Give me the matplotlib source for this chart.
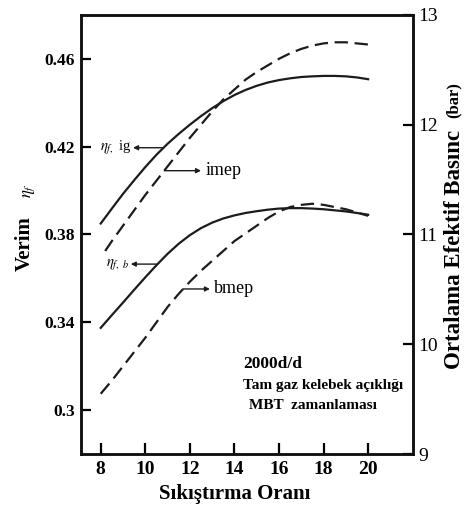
import matplotlib
matplotlib.use("Agg")
import matplotlib.pyplot as plt
import numpy as np

# compression ratio (values at half steps)
cr = [8, 8.5, 9, 9.5, 10, 10.5, 11, 11.5, 12, 12.5, 13, 13.5, 14, 14.5,
      15, 15.5, 16, 16.5, 17, 17.5, 18, 18.5, 19, 19.5, 20]
eta_ig = [0.3850, 0.3918, 0.3985, 0.4047, 0.4107, 0.4163, 0.4213, 0.4258, 0.4300,
          0.4339, 0.4375, 0.4407, 0.4435, 0.4458, 0.4477, 0.4492, 0.4503, 0.4511,
          0.4517, 0.4520, 0.4522, 0.4522, 0.4520, 0.4515, 0.4507]
eta_b = [0.3375, 0.3433, 0.3490, 0.3548, 0.3605, 0.3660, 0.3712, 0.3758, 0.3797,
         0.3829, 0.3854, 0.3873, 0.3887, 0.3898, 0.3906, 0.3913, 0.3918, 0.3920,
         0.3920, 0.3918, 0.3915, 0.3910, 0.3905, 0.3898, 0.3890]

cr_imep = [8.2, 8.5, 9, 9.5, 10, 10.5, 11, 11.5, 12, 12.5, 13, 13.5, 14, 14.5,
           15, 15.5, 16, 16.5, 17, 17.5, 18, 18.5, 19, 19.5, 20]
imep = [10.85, 10.94, 11.08, 11.22, 11.36, 11.49, 11.62, 11.75, 11.88, 12.00,
        12.12, 12.23, 12.32, 12.41, 12.48, 12.54, 12.60, 12.65, 12.69, 12.72,
        12.74, 12.75, 12.75, 12.74, 12.73]
bmep = [9.55, 9.67, 9.80, 9.93, 10.06, 10.20, 10.34, 10.46, 10.57, 10.67, 10.76,
        10.85, 10.94, 11.01, 11.08, 11.15, 11.21, 11.25, 11.27, 11.28, 11.27,
        11.25, 11.23, 11.20, 11.17]

left_ticks = [0.3, 0.34, 0.38, 0.42, 0.46]
left_labels = ["0.3", "0.34", "0.38", "0.42", "0.46"]
right_ticks = [9, 10, 11, 12, 13]
x_ticks = [8, 10, 12, 14, 16, 18, 20]

plt.rcParams["font.family"] = ["Liberation Serif", "DejaVu Serif"]
plt.rcParams["mathtext.fontset"] = "stix"

fig = plt.figure(figsize=(4.69, 5.12), dpi=100)
ax = fig.add_axes([0.172, 0.113, 0.708, 0.858])
ax2 = ax.twinx()

line_color = "#1c1c1c"
dash = (0, (6, 3))
ax.plot(cr, eta_ig, color=line_color, lw=1.6)
ax.plot(cr, eta_b, color=line_color, lw=1.6)
ax2.plot(cr_imep, imep, color=line_color, lw=1.6, linestyle=dash)
ax2.plot(cr, bmep, color=line_color, lw=1.6, linestyle=dash)

ax.set_xlim(7.1, 22.0)
ax.set_ylim(0.28, 0.48)
ax2.set_ylim(9, 13)

ax.set_xticks(x_ticks)
ax.set_xticklabels([str(t) for t in x_ticks], fontsize=14, fontweight="bold")
ax.set_yticks(left_ticks)
ax.set_yticklabels(left_labels, fontsize=12.5, fontweight="bold")
ax2.set_yticks(right_ticks)
ax2.set_yticklabels([str(t) for t in right_ticks], fontsize=14)

ax.tick_params(axis="x", direction="in", length=8, width=1.6, pad=5, top=False)
ax.tick_params(axis="y", direction="in", length=7, width=1.6, pad=4)
ax2.tick_params(axis="y", direction="in", length=7, width=1.6, pad=4)
for a in (ax, ax2):
    for s in a.spines.values():
        s.set_linewidth(1.8)
        s.set_color("#111111")

fig.text(0.501, 0.036, "Sıkıştırma Oranı", ha="center", va="center", fontsize=15, fontweight="bold")
fig.text(0.052, 0.525, "Verim", rotation=90, ha="center", va="center", fontsize=15, fontweight="bold")
fig.text(0.062, 0.627, r"$\eta_f$", rotation=90, ha="center", va="center", fontsize=12)
fig.text(0.970, 0.512, "Ortalama Efektif Basınc", rotation=90, ha="center", va="center", fontsize=16.5, fontweight="bold")
fig.text(0.967, 0.805, "(bar)", rotation=90, ha="center", va="center", fontsize=12, fontweight="bold")

arrow = dict(arrowstyle="-|>", color=line_color, lw=1.0, mutation_scale=7, shrinkA=0, shrinkB=0)

# eta_f,ig label
x0 = 10.82
y0 = np.interp(x0, cr, eta_ig)
ax.annotate("", xy=(9.45, y0), xytext=(x0, y0), arrowprops=arrow)
ax.text(9.38, y0, r"$\eta_{f,}$ ig", ha="right", va="center", fontsize=10.5)

# eta_f,b label
x0 = 10.55
y0 = np.interp(x0, cr, eta_b)
ax.annotate("", xy=(9.35, y0), xytext=(x0, y0), arrowprops=arrow)
ax.text(9.28, y0, r"$\eta_{f,\ b}$", ha="right", va="center", fontsize=10.5)

# imep label
x0 = 10.85
y0 = np.interp(x0, cr_imep, imep)
ax2.annotate("", xy=(12.5, y0), xytext=(x0, y0), arrowprops=arrow)
ax2.text(12.7, y0, "imep", ha="left", va="center", fontsize=13)

# bmep label
x0 = 11.7
y0 = np.interp(x0, cr, bmep)
ax2.annotate("", xy=(12.9, y0), xytext=(x0, y0), arrowprops=arrow)
ax2.text(13.1, y0, "bmep", ha="left", va="center", fontsize=13)

ax.text(14.4, 0.321, "2000d/d", ha="left", va="center", fontsize=12.5, fontweight="bold")
ax.text(14.4, 0.3114, "Tam gaz kelebek açıklığı", ha="left", va="center", fontsize=11, fontweight="bold")
ax.text(14.67, 0.3023, "MBT  zamanlaması", ha="left", va="center", fontsize=11, fontweight="bold")

fig.savefig("out.png", dpi=100)
